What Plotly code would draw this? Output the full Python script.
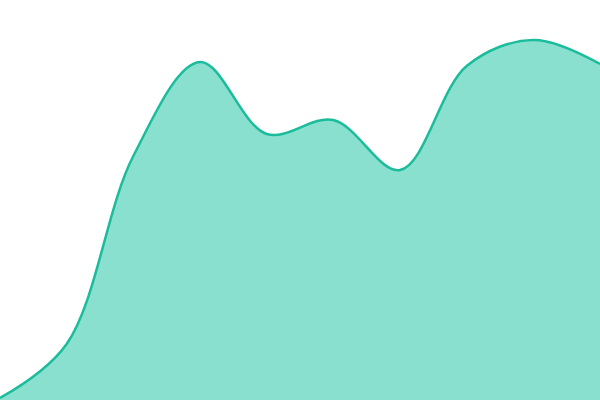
import plotly.graph_objects as go

# evenly spaced samples, values on a 0-100 scale
x_vals = list(range(10))
y_vals = [0.5, 14, 61, 84.5, 66.5, 70, 57.5, 83.5, 90, 84]

fig = go.Figure()
fig.add_trace(go.Scatter(x=x_vals, y=y_vals, mode='lines', fill='tozeroy',
                         line=dict(color='#1abc9c', width=2.5, shape='spline', smoothing=1),
                         fillcolor='#8ae0cf', hoverinfo='skip'))

fig.update_layout(width=600, height=400, margin=dict(l=0, r=0, t=0, b=0),
                  paper_bgcolor='white', plot_bgcolor='white', showlegend=False)
fig.update_xaxes(visible=False, range=[0, 9])
fig.update_yaxes(visible=False, range=[0, 100])

# drop the browser's default body margin so the chart fills the window
fig.write_html("out.html", config={'displayModeBar': False},
               post_script="document.body.style.margin='0';")
